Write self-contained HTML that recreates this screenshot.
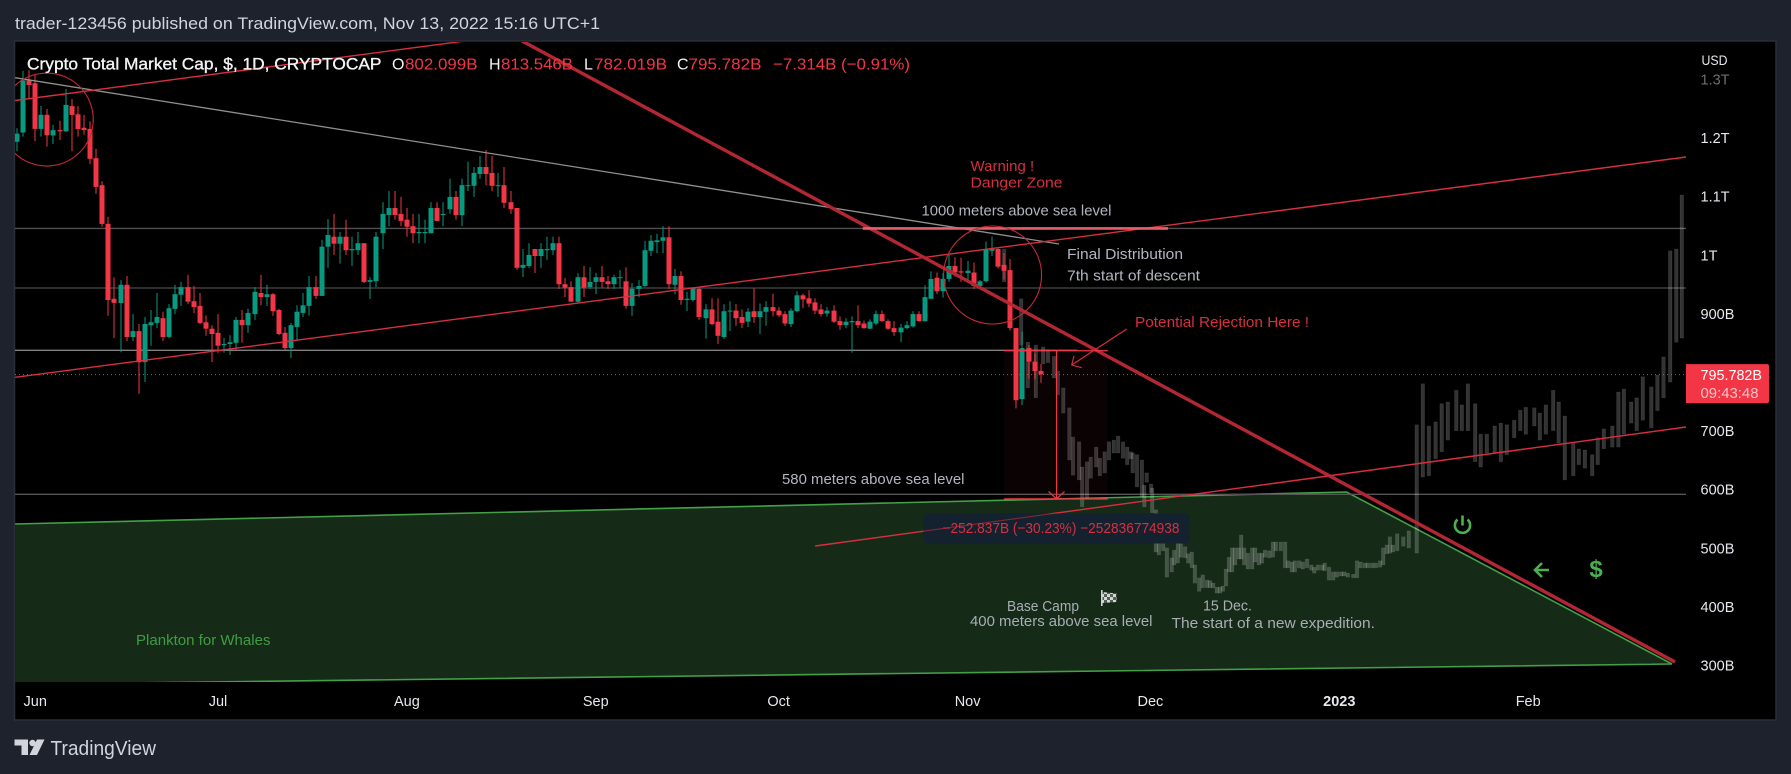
<!DOCTYPE html>
<html lang="en">
<head>
<meta charset="utf-8">
<title>Crypto Total Market Cap chart</title>
<style>
html,body{margin:0;padding:0;background:#1e222d;width:1791px;height:774px;overflow:hidden}
svg{display:block;font-family:"Liberation Sans",sans-serif}
</style>
</head>
<body>
<svg id="chart" width="1791" height="774" viewBox="0 0 1791 774" xmlns="http://www.w3.org/2000/svg">
  <defs>
    <clipPath id="pane"><rect x="15" y="42" width="1671" height="640"/></clipPath>
    <pattern id="checker" width="6" height="6" patternUnits="userSpaceOnUse">
      <rect width="6" height="6" fill="#d4d6d4"/>
      <rect width="3" height="3" fill="#55605a"/>
      <rect x="3" y="3" width="3" height="3" fill="#55605a"/>
    </pattern>
  </defs>
  <rect x="0" y="0" width="1791" height="774" fill="#1e222d"/>
  <text x="15" y="29" font-size="17" fill="#d1d4dc" textLength="585" lengthAdjust="spacingAndGlyphs">trader-123456 published on TradingView.com, Nov 13, 2022 15:16 UTC+1</text>
  <rect x="14.5" y="41" width="1761.5" height="679" fill="#000" stroke="#2a2e39" stroke-width="1.5"/>
  <g id="pane-layer" clip-path="url(#pane)"></g>
  <g id="y-axis"></g>
  <g id="x-axis"></g>

  <text x="27" y="69.5" font-size="16.5" fill="#f2f3f5" stroke="#f2f3f5" stroke-width="0.35" textLength="354.5" lengthAdjust="spacingAndGlyphs">Crypto Total Market Cap, $, 1D, CRYPTOCAP</text>
  <text x="392" y="69.5" font-size="16" fill="#f2f3f5">O</text>
  <text x="405" y="69.5" font-size="16" fill="#f23645" textLength="72.5" lengthAdjust="spacingAndGlyphs">802.099B</text>
  <text x="489" y="69.5" font-size="16" fill="#f2f3f5">H</text>
  <text x="501" y="69.5" font-size="16" fill="#f23645" textLength="72" lengthAdjust="spacingAndGlyphs">813.546B</text>
  <text x="584" y="69.5" font-size="16" fill="#f2f3f5">L</text>
  <text x="594" y="69.5" font-size="16" fill="#f23645" textLength="73" lengthAdjust="spacingAndGlyphs">782.019B</text>
  <text x="677" y="69.5" font-size="16" fill="#f2f3f5">C</text>
  <text x="688.5" y="69.5" font-size="16" fill="#f23645" textLength="73" lengthAdjust="spacingAndGlyphs">795.782B</text>
  <text x="773" y="69.5" font-size="16" fill="#f23645" textLength="137" lengthAdjust="spacingAndGlyphs">−7.314B (−0.91%)</text>

  <text x="970.5" y="171" font-size="15" fill="#d5303f">Warning !</text>
  <text x="970.5" y="187.5" font-size="15" fill="#d5303f" textLength="92" lengthAdjust="spacingAndGlyphs">Danger Zone</text>
  <text x="921.5" y="215.5" font-size="14.5" fill="#b2b5be" textLength="190" lengthAdjust="spacingAndGlyphs">1000 meters above sea level</text>
  <text x="1067" y="259" font-size="14.5" fill="#b2b5be" textLength="116" lengthAdjust="spacingAndGlyphs">Final Distribution</text>
  <text x="1067" y="280.5" font-size="14.5" fill="#b2b5be" textLength="133" lengthAdjust="spacingAndGlyphs">7th start of descent</text>
  <text x="1135" y="327" font-size="14.5" fill="#d5303f" textLength="174" lengthAdjust="spacingAndGlyphs">Potential Rejection Here !</text>
  <text x="782" y="484" font-size="14.5" fill="#b2b5be" textLength="182.5" lengthAdjust="spacingAndGlyphs">580 meters above sea level</text>
  <text x="1007" y="611" font-size="14.5" fill="#a8adb5" textLength="72" lengthAdjust="spacingAndGlyphs">Base Camp</text>
  <text x="970" y="626" font-size="14.5" fill="#a8adb5" textLength="182.5" lengthAdjust="spacingAndGlyphs">400 meters above sea level</text>
  <text x="1203" y="610.5" font-size="14.5" fill="#a8adb5" textLength="49" lengthAdjust="spacingAndGlyphs">15 Dec.</text>
  <text x="1171.5" y="628" font-size="14.5" fill="#a8adb5" textLength="203.5" lengthAdjust="spacingAndGlyphs">The start of a new expedition.</text>
  <text x="136" y="645" font-size="14.5" fill="#3f9c43" textLength="134.5" lengthAdjust="spacingAndGlyphs">Plankton for Whales</text>

  <g>
    <rect x="1101" y="590" width="1.6" height="16" fill="#cfd3d0"/>
    <polygon points="1102.5,592 1116.5,593.5 1116.5,602 1102.5,603" fill="url(#checker)"/>
  </g>
  <g fill="none" stroke="#4caf50" stroke-width="2.6">
    <path d="M1457.5 519.5 A7.6 7.6 0 1 0 1467.5 519.5 M1462.5 515.5 V525.5"/>
    <path d="M1549 570 H1535 M1542 563 L1535 570 L1542 577"/>
  </g>
  <text x="1596" y="577" font-size="24" font-weight="bold" fill="#4caf50" text-anchor="middle">$</text>

  <g fill="#d1d4dc">
    <path d="M14.5 739.5 H28 V755 H21.5 V745.5 H14.5 Z"/>
    <circle cx="32.5" cy="743" r="3.2"/>
    <path d="M37 739.5 H44.5 L37 755 H29.5 Z"/>
    <text x="50.5" y="755" font-size="20" fill="#d1d4dc" textLength="105.5" lengthAdjust="spacingAndGlyphs">TradingView</text>
  </g>
</svg>

<script>
// ---- Chart data (prices in billions of USD, days counted from 1 Jun 2022) ----
const firstCandleDay = -3;
const candleOpen = [
1193,1209,1298,1293,1215,1239,1204,1213,1211,1254,
1240,1217,1215,1165,1119,1053,925,918,949,860,
870,817,880,884,892,860,908,932,945,921,
913,885,874,867,846,848,850,889,880,899,
935,928,933,906,867,841,877,901,913,945,
930,1014,1031,1019,1031,1008,1008,1020,954,955,
1037,1068,1080,1070,1060,1049,1037,1037,1037,1080,
1068,1078,1099,1068,1118,1118,1138,1150,1140,1118,
1119,1090,1080,978,981,1010,998,1008,1008,1020,
950,945,920,962,945,954,962,955,950,961,
955,913,942,947,1007,1022,1024,1030,949,964,
923,923,942,892,907,886,860,904,905,894,
886,904,894,903,911,905,899,882,904,931,
926,919,907,900,905,887,880,885,887,883,
874,883,899,887,875,868,875,878,899,887,
925,961,938,959,981,972,969,970,947,955,
1007,1010,983,974,875,754,841,818,802];
const candleHigh = [
1216,1314,1315,1307,1254,1249,1222,1229,1283,1266,
1254,1239,1228,1181,1126,1065,962,957,964,899,
882,894,906,935,903,916,949,954,966,947,
935,897,880,899,858,863,894,906,908,945,
966,949,935,908,877,884,914,935,964,964,
1026,1061,1070,1039,1060,1031,1039,1020,962,1039,
1090,1109,1109,1099,1080,1070,1070,1060,1090,1090,
1090,1130,1109,1130,1159,1150,1169,1179,1169,1140,
1150,1109,1080,1010,1020,1010,1020,1031,1031,1031,
961,955,969,981,979,969,981,964,966,974,
979,952,957,1024,1034,1036,1049,1049,976,972,
937,945,945,916,926,926,916,921,916,907,
909,943,917,921,934,911,904,909,938,934,
940,926,916,911,914,895,892,895,914,888,
890,905,905,890,887,882,887,904,904,948,
972,970,969,1003,996,995,990,987,957,1023,
1031,1012,1003,993,875,869,846,832,814];
const candleLow = [
1177,1202,1267,1194,1202,1185,1189,1196,1210,1177,
1202,1205,1155,1104,1048,896,858,834,853,853,
763,783,845,875,853,858,899,913,916,901,
882,862,817,833,833,829,838,850,867,889,
914,913,896,863,838,824,855,894,897,925,
930,978,1000,985,1000,981,1000,952,925,945,
1010,1049,1060,1049,1031,1020,1020,1020,1037,1058,
1049,1070,1060,1049,1109,1099,1130,1119,1109,1099,
1080,1070,974,962,978,969,978,991,1000,942,
928,920,918,928,942,933,944,942,942,943,
908,896,928,945,998,1003,1003,942,933,915,
904,920,889,857,880,848,857,870,879,875,
877,884,865,879,895,894,879,877,902,909,
911,899,895,895,884,872,875,833,875,874,
874,880,886,872,862,851,873,876,886,886,
925,933,927,954,963,954,953,942,944,953,
998,977,958,871,738,744,789,788,782];
const candleClose = [
1207,1298,1290,1215,1239,1204,1213,1211,1256,1239,
1215,1213,1164,1116,1053,923,918,949,860,870,
817,882,885,894,860,909,933,945,920,911,
884,874,865,845,848,851,889,880,901,937,
928,933,904,865,841,880,903,914,945,930,
1014,1034,1019,1031,1008,1010,1020,954,957,1031,
1070,1080,1068,1058,1048,1037,1039,1039,1080,1058,
1070,1099,1068,1119,1119,1140,1150,1138,1118,1119,
1089,1078,978,983,1000,998,1010,1010,1020,950,
944,920,962,944,954,962,954,950,962,962,
913,942,947,1008,1024,1025,1030,950,964,923,
925,943,894,907,882,862,904,905,892,884,
903,894,904,911,904,897,883,905,931,924,
917,905,899,905,886,880,886,887,880,875,
886,899,887,874,868,876,880,899,887,928,
959,938,959,981,970,970,973,947,955,1010,
1010,980,973,875,752,841,818,802,796];

const projectionDay = [
159,161.8,162.9,164.2,165.4,166.2,167.2,167.8,168.7,169.7,
170.3,171.3,171.8,172.6,173.2,174.1,174.7,175.5,176.2,177,
177.7,178.5,179.2,179.8,180.1,180.8,181.6,182,182.4,183.1,
183.3,183.9,184.4,185.1,185.7,186.5,186.9,187.5,188,188.7,
189.2,189.8,190.3,191,191.6,192.3,192.8,193.3,193.9,194.4,
194.9,195.4,195.9,196.4,196.9,197.5,197.9,198.4,199,199.7,
200.2,200.8,201.3,201.8,202.5,203.1,203.6,204.4,205.1,205.6,
206.2,206.7,207.4,208,208.7,209.4,209.9,210.5,211.2,211.6,
212.3,213,213.6,214.3,214.8,215.4,216.3,216.9,217.5,218.2,
218.7,219.4,220,220.7,221.2,221.8,222.3,222.8,223.5,224.5,
225.4,226.7,227.7,228.7,229.8,230.8,231.8,233.2,234.1,235.1,
236.3,237.2,238.2,239.5,240.5,241.5,242.7,243.7,244.6,246,
246.9,247.9,249.1,250,251,252.4,253.3,254.3,255.5,256.4,
257.4,258.8,259.8,260.7,261.9,262.8,263.8,265.2,266.2,267.2,
268.3,269.3,270.2];
const projectionHigh = [
1010,925,851,846,843,838,827,802,773,739,
689,681,638,647,655,672,653,664,681,684,
691,681,672,664,662,659,650,607,628,609,
602,565,517,515,500,483,496,515,507,502,
490,493,471,449,454,445,444,440,433,433,
435,464,484,500,500,500,522,500,491,500,
500,491,491,496,495,510,510,510,510,478,
476,478,478,476,481,471,467,471,471,474,
467,459,459,459,459,457,455,478,476,474,
474,474,474,478,500,505,519,505,524,519,
529,710,780,708,715,746,749,769,744,780,
746,694,694,708,713,710,718,735,740,739,
730,744,769,749,725,679,669,667,659,688,
703,708,766,771,749,756,792,775,795,826,
1007,1010,1102];
const projectionLow = [
954,846,773,756,814,816,790,761,730,650,
624,616,570,583,619,638,623,628,650,662,
662,653,642,652,628,604,587,570,612,594,
560,493,488,495,450,459,471,474,484,483,
474,466,440,426,432,432,432,432,423,423,
426,435,459,459,471,481,481,471,464,464,
476,471,474,484,483,484,495,495,466,466,
459,459,466,464,466,462,457,462,462,461,
445,445,450,452,452,450,449,449,466,466,
466,466,466,467,471,490,491,493,495,503,
500,491,621,623,652,664,684,700,700,700,
647,638,662,662,647,659,688,700,694,708,
684,694,700,679,616,623,642,636,623,642,
669,672,672,694,713,700,718,705,734,756,
783,851,858];

const priceTickValues = [1300,1200,1100,1000,900,800,700,600,500,400,300];
const priceTickLabels = ['1.3T','1.2T','1.1T','1T','900B','','700B','600B','500B','400B','300B'];
const monthDays = [0,30,61,92,122,153,183,214,245];
const monthLabels = ['Jun','Jul','Aug','Sep','Oct','Nov','Dec','2023','Feb'];
const lastPrice = 795.782;
const measureTop = 836.4;
const measureBottom = 583.5;
const measureDays = [159,176];
const levelPrices = [1045.2,943.5,837.2,591.5];
const zoneDays = [-3.3,215.2,268.6,28.2,-3.3];
const zonePrices = [540.8,595.4,301.9,271.2,267];
const upperChannelDays = [-3.3,70.5];
const upperChannelPrices = [1263.5,1365];
const grayTrendDays = [-3.3,168];
const grayTrendPrices = [1302.4,1018.6];
const midChannelDays = [-3.3,270.9];
const midChannelPrices = [791.1,1167.1];
const lowChannelDays = [128,270.9];
const lowChannelPrices = [503.3,706.3];
const descentDays = [79.9,269.1];
const descentPrices = [1365,305.3];
const dangerLineDays = [135.8,185.9];
const dangerLinePrice = 1045.2;

// ---- Axis functions ----
function xOf(day){ return 35.2 + 6.094 * day; }
function yOf(price){ return 137.7 + (1200 - price) * 0.586; }

const NS = 'http://www.w3.org/2000/svg';
const paneLayer = document.getElementById('pane-layer');
const yAxisLayer = document.getElementById('y-axis');
const xAxisLayer = document.getElementById('x-axis');

function make(tag, parent, attrs){
  const el = document.createElementNS(NS, tag);
  for (const k in attrs) el.setAttribute(k, attrs[k]);
  parent.appendChild(el);
  return el;
}
function linePath(days, prices){
  return days.map(function(d, i){ return (i ? 'L' : 'M') + xOf(d).toFixed(1) + ' ' + yOf(prices[i]).toFixed(1); }).join(' ');
}

// Green "plankton" zone
const zone = make('path', paneLayer, {d: linePath(zoneDays, zonePrices) + ' Z', fill:'#152b17', stroke:'none'});


const zoneEdge = make('path', paneLayer, {d: linePath(zoneDays, zonePrices), fill:'none', stroke:'#43a047', 'stroke-width':1.6});



// Horizontal levels
const levelColors = ['#505050','#3e3e3e','#808080','#555555'];
const levelEnds = [1686,1686,1077.5,1686];
levelPrices.forEach(function(p, i){
  const level = make('line', paneLayer, {x1:15, x2:levelEnds[i], y1:yOf(p), y2:yOf(p), stroke:levelColors[i], 'stroke-width':1.4});
  
  
});

// Measure tool shading
const measureShade = make('rect', paneLayer, {x:xOf(measureDays[0]), y:yOf(measureTop), width:xOf(measureDays[1])-xOf(measureDays[0]), height:yOf(measureBottom)-yOf(measureTop), fill:'rgba(242,54,69,0.045)'});



// Projected ghost bars
projectionDay.forEach(function(d, i){
  const top = yOf(projectionHigh[i]);
  const bar = make('rect', paneLayer, {x:(xOf(d)-1.8).toFixed(1), y:top.toFixed(1), width:3.6, height:(yOf(projectionLow[i])-top).toFixed(1), fill:'rgba(255,255,255,0.2)', stroke:'rgba(255,255,255,0.08)', 'stroke-width':0.7});
  
  
});

// Candles
candleOpen.forEach(function(o, i){
  const c = candleClose[i];
  const color = c >= o ? '#089981' : '#f23645';
  const cx = Math.round(xOf(firstCandleDay + i));
  const wick = make('rect', paneLayer, {x:cx-0.5, y:yOf(candleHigh[i]).toFixed(1), width:1, height:(yOf(candleLow[i])-yOf(candleHigh[i])).toFixed(1), fill:color});
  
  
  const top = yOf(Math.max(o, c));
  const h = Math.max(1, yOf(Math.min(o, c)) - top);
  const body = make('rect', paneLayer, {x:cx-2.5, y:top.toFixed(1), width:5, height:h.toFixed(1), fill:color});
  
  
});

// Trend lines
const grayTrend = make('path', paneLayer, {d:linePath(grayTrendDays, grayTrendPrices), fill:'none', stroke:'#8f8f8f', 'stroke-width':1.3});



const upperChannel = make('path', paneLayer, {d:linePath(upperChannelDays, upperChannelPrices), fill:'none', stroke:'#d5303f', 'stroke-width':1.4});



const midChannel = make('path', paneLayer, {d:linePath(midChannelDays, midChannelPrices), fill:'none', stroke:'#d5303f', 'stroke-width':1.4});



const lowChannel = make('path', paneLayer, {d:linePath(lowChannelDays, lowChannelPrices), fill:'none', stroke:'#d5303f', 'stroke-width':1.4});



const descent = make('path', paneLayer, {d:linePath(descentDays, descentPrices), fill:'none', stroke:'#b32733', 'stroke-width':3.4});



const dangerLine = make('line', paneLayer, {x1:xOf(dangerLineDays[0]), x2:xOf(dangerLineDays[1]), y1:yOf(dangerLinePrice), y2:yOf(dangerLinePrice), stroke:'#e4606c', 'stroke-width':2.6});



// Circles
const leftCircle = make('circle', paneLayer, {cx:xOf(1.9), cy:yOf(1231), r:46.5, fill:'none', stroke:'#c42a37', 'stroke-width':1.1});


const rightCircle = make('circle', paneLayer, {cx:xOf(157.1), cy:yOf(965.7), r:49, fill:'none', stroke:'#c42a37', 'stroke-width':1.1});



// Measure tool lines and arrow
const measureX = xOf(167.6);
const measureTopLine = make('line', paneLayer, {x1:xOf(measureDays[0]), x2:xOf(measureDays[1]), y1:yOf(measureTop), y2:yOf(measureTop), stroke:'#f23645', 'stroke-width':1.2});


const measureBottomLine = make('line', paneLayer, {x1:xOf(measureDays[0]), x2:xOf(measureDays[1]), y1:yOf(measureBottom), y2:yOf(measureBottom), stroke:'#f23645', 'stroke-width':1.4});


const measureArrow = make('path', paneLayer, {d:'M'+measureX+' '+yOf(measureTop)+' V'+yOf(measureBottom)+' M'+(measureX-8)+' '+(yOf(measureBottom)-7.5)+' L'+measureX+' '+yOf(measureBottom)+' L'+(measureX+8)+' '+(yOf(measureBottom)-7.5), fill:'none', stroke:'#f23645', 'stroke-width':1.2});


const measureBox = make('rect', paneLayer, {x:923.5, y:513.5, width:266, height:30, rx:5, fill:'#14212e'});


const measureLowLine = make('path', paneLayer, {d:linePath(lowChannelDays, lowChannelPrices), fill:'none', stroke:'rgba(213,48,63,0.55)', 'stroke-width':1.2});


const measureText = make('text', paneLayer, {x:942.5, y:533, 'font-size':15, fill:'#d5303f', textLength:237, lengthAdjust:'spacingAndGlyphs'});
measureText.textContent = '−252.837B (−30.23%) −252836774938';



// Rejection arrow
const rejectArrow = make('path', paneLayer, {d:'M1126.7 329 L1071.7 365 M1074 355.7 L1071.7 365 L1081.7 367.7', fill:'none', stroke:'#d5303f', 'stroke-width':1.1});



// Last price line
const priceLine = make('line', paneLayer, {x1:15, x2:1686, y1:yOf(lastPrice), y2:yOf(lastPrice), stroke:'#f23645', 'stroke-width':1, 'stroke-dasharray':'1 3'});



// Price axis
const currency = make('text', yAxisLayer, {x:1701.5, y:65, 'font-size':14, fill:'#e6e8ee', textLength:26, lengthAdjust:'spacingAndGlyphs'});
currency.textContent = 'USD';



priceTickValues.forEach(function(v, i){
  if (!priceTickLabels[i]) return;
  const tick = make('text', yAxisLayer, {x:1700.5, y:(yOf(v)+5.4).toFixed(1), 'font-size':14.5, fill: i === 0 ? '#6e6e6e' : '#e6e8ee'});
  tick.textContent = priceTickLabels[i];
  
  
});

const priceBadge = make('path', yAxisLayer, {d:'M1686 '+(yOf(lastPrice)-10.5)+' H1767 a2 2 0 0 1 2 2 V'+(yOf(lastPrice)+26.5)+' a2 2 0 0 1 -2 2 H1686 Z', fill:'#f23645'});


const priceBadgeText = make('text', yAxisLayer, {x:1700.5, y:(yOf(lastPrice)+5.5).toFixed(1), 'font-size':14.5, fill:'#fff', textLength:61.5, lengthAdjust:'spacingAndGlyphs'});
priceBadgeText.textContent = lastPrice.toFixed(3) + 'B';


const countdownText = make('text', yAxisLayer, {x:1700.5, y:(yOf(lastPrice)+23.5).toFixed(1), 'font-size':14.5, fill:'#fbc3c8', textLength:58, lengthAdjust:'spacingAndGlyphs'});
countdownText.textContent = '09:43:48';



// Time axis
monthDays.forEach(function(d, i){
  const tick = make('text', xAxisLayer, {x:xOf(d).toFixed(1), y:706, 'font-size':14.5, 'text-anchor':'middle', fill:'#e6e8ee', 'font-weight': monthLabels[i] === '2023' ? 'bold' : 'normal'});
  tick.textContent = monthLabels[i];
  
  
});
</script>
</body>
</html>
